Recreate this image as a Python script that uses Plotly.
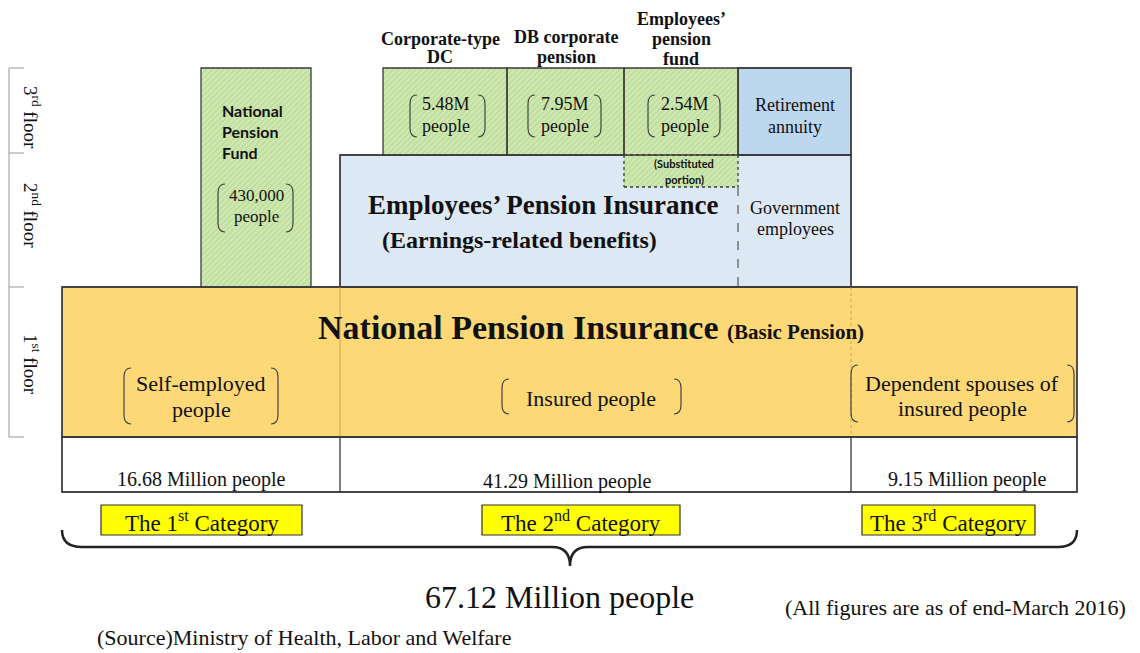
import plotly.graph_objects as go

# ---------------- data ----------------
floor_labels = ["3<sup>rd</sup> floor", "2<sup>nd</sup> floor", "1<sup>st</sup> floor"]
top_plans = [["Corporate-type", "DC"], ["DB corporate", "pension"], ["Employees’", "pension", "fund"]]
top_plan_members = ["5.48M", "7.95M", "2.54M"]
npf_name = ["National", "Pension", "Fund"]
npf_members = "430,000"
categories = ["The 1<sup>st</sup> Category", "The 2<sup>nd</sup> Category", "The 3<sup>rd</sup> Category"]
category_groups = [["Self-employed", "people"], ["Insured people"], ["Dependent spouses of", "insured people"]]
category_counts = [16.68, 41.29, 9.15]
total_count = 67.12
year_note = "(All figures are as of end-March 2016)"
source_note = "(Source)Ministry of Health, Labor and Welfare"

# ---------------- layout geometry (page pixels) ----------------
W, H = 1140, 653
OFF = 8  # default body margin of the html page
SERIF = "Liberation Serif"
SANS = "Lato"
DARK = "#3a3a3a"
GREEN = "#cfe8b0"
GREEN_HATCH = "#a3c97f"

fig = go.Figure()
shapes = []
ann = []

def rect(x0, y0, x1, y1, fill="rgba(0,0,0,0)", line=DARK, lw=1.3, dash="solid", layer="above"):
    shapes.append(dict(type="rect", x0=x0, y0=y0, x1=x1, y1=y1, xref="x", yref="y",
                       fillcolor=fill, line=dict(color=line, width=lw, dash=dash), layer=layer))

def line(x0, y0, x1, y1, color=DARK, lw=1.3, dash="solid", layer="above"):
    shapes.append(dict(type="line", x0=x0, y0=y0, x1=x1, y1=y1, xref="x", yref="y",
                       line=dict(color=color, width=lw, dash=dash), layer=layer))

def text(x, y, t, size=15, family=SERIF, color="#111", xanchor="center", angle=0):
    ann.append(dict(x=x, y=y, xref="x", yref="y", text=t, showarrow=False,
                    font=dict(size=size, family=family, color=color),
                    xanchor=xanchor, yanchor="middle", textangle=angle))

def lines(x, ys, items, bold=False, **kw):
    for yy, t in zip(ys, items):
        text(x, yy, f"<b>{t}</b>" if bold else t, **kw)

def brackets(xl, xr, y0, y1, color="#444", lw=1.2):
    r = 7
    pl = f"M {xl+r},{y0} Q {xl},{y0} {xl},{y0+r+2} L {xl},{y1-r-2} Q {xl},{y1} {xl+r},{y1}"
    pr = f"M {xr-r},{y0} Q {xr},{y0} {xr},{y0+r+2} L {xr},{y1-r-2} Q {xr},{y1} {xr-r},{y1}"
    for p in (pl, pr):
        shapes.append(dict(type="path", path=p, xref="x", yref="y",
                           line=dict(color=color, width=lw), layer="above"))

# floor scale
line(9, 68, 9, 437, color="#999", lw=1)
for yy in (68, 153, 287, 437):
    line(9, yy, 24, yy, color="#999", lw=1)
for (yy, lab) in zip((117, 215, 364), floor_labels):
    text(32, yy, lab, size=19, angle=90)

# background boxes
rect(340, 155, 851, 287, fill="#dde8f5", layer="below")            # Employees' Pension Insurance
rect(738, 68, 851, 155, fill="#bdd7ee", layer="below")             # Retirement annuity
rect(62, 287, 1077, 437, fill="#fdd877", layer="below")            # National Pension Insurance
rect(62, 437, 1077, 492, fill="#ffffff", layer="below")            # counts row

# hatched green boxes (bars with pattern)
green_boxes = [  # (x0, x1, y0, y1)
    (201, 311, 68, 287),
    (383, 507, 68, 155),
    (507, 624, 68, 155),
    (624, 738, 68, 187),
]
fig.add_trace(go.Bar(
    x=[(b[0] + b[1]) / 2 for b in green_boxes],
    width=[b[1] - b[0] for b in green_boxes],
    base=[b[2] for b in green_boxes],
    y=[b[3] - b[2] for b in green_boxes],
    marker=dict(color=GREEN, line=dict(width=0),
                pattern=dict(shape="/", fgcolor=GREEN_HATCH, size=4, solidity=0.3, fillmode="overlay")),
    hoverinfo="skip", showlegend=False,
))

# borders
rect(201, 68, 311, 287)
rect(383, 68, 507, 155)
rect(507, 68, 624, 155)
line(624, 68, 738, 68); line(624, 68, 624, 155); line(738, 68, 738, 155)
line(624, 155, 738, 155, dash="dot")
line(624, 155, 624, 187, dash="dot"); line(738, 155, 738, 187, dash="dot")
line(624, 187, 738, 187, dash="dot")
rect(738, 68, 851, 155)
rect(340, 155, 851, 287)
line(738, 187, 738, 287, dash="dash", lw=1)
rect(62, 287, 1077, 437)
line(340, 287, 340, 437, color="#b59a55", lw=0.8)
line(851, 287, 851, 437, color="#b59a55", lw=0.8, dash="dot")
rect(62, 437, 1077, 492)
line(340, 437, 340, 492)
line(851, 437, 851, 492)

# National Pension Fund text
lines(220, [110, 131, 152], npf_name, bold=True, size=16, family=SANS, xanchor="left")
lines(256, [195, 216], [npf_members, "people"], size=17)
brackets(218, 293, 184, 232)

# top plan labels and members
lines(440, [39, 57], top_plans[0], bold=True, size=18)
lines(566, [37, 57], top_plans[1], bold=True, size=18)
lines(681, [19, 39, 59], top_plans[2], bold=True, size=18)
for cx, m in zip([446, 565, 685], top_plan_members):
    lines(cx, [104, 126], [m, "people"], size=18)
brackets(410, 485, 95, 137)
brackets(528, 601, 95, 137)
brackets(648, 720, 95, 137)
lines(684, [163, 179], ["(Substituted", "portion)"], bold=True, size=11, family=SANS)
lines(795, [105, 127], ["Retirement", "annuity"], size=18)

# Employees' Pension Insurance
text(543, 205, "<b>Employees’ Pension Insurance</b>", size=27)
text(519, 240, "<b>(Earnings-related benefits)</b>", size=24)
lines(795, [208, 229], ["Government", "employees"], size=18)

# National Pension Insurance
text(591, 327, "<b>National Pension Insurance</b> <b><span style='font-size:21px'>(Basic Pension)</span></b>", size=34)
lines(201, [383, 409], category_groups[0], size=22)
lines(591, [398], category_groups[1], size=22)
lines(962, [383, 408], category_groups[2], size=22)
brackets(124, 278, 368, 424)
brackets(502, 681, 379, 414)
brackets(851, 1074, 365, 422)

# counts row
for cx, cy, c in zip([201, 567, 967], [479, 481, 479], category_counts):
    text(cx, cy, f"{c:.2f} Million people", size=20)

# category boxes
cat_boxes = [(101, 302), (482, 680), (862, 1035)]
for (x0, x1), c in zip(cat_boxes, categories):
    rect(x0, 505, x1, 535, fill="#ffff00", line="#333", lw=1.2)
    text((x0 + x1) / 2, 521, c, size=23)

# brace
brace = ("M 62,530 Q 62,547 82,547 L 552,547 Q 570,547 570,566 "
         "Q 570,547 588,547 L 1058,547 Q 1077,547 1077,530")
shapes.append(dict(type="path", path=brace, xref="x", yref="y",
                   line=dict(color="#222", width=2.5), layer="above"))

text(559, 597, f"{total_count:.2f} Million people", size=32)
text(955, 607, year_note, size=22)
text(95, 637, source_note, size=22, xanchor="left")

fig.update_layout(
    width=W - OFF, height=H - OFF,
    margin=dict(l=0, r=0, t=0, b=0),
    paper_bgcolor="white", plot_bgcolor="white",
    xaxis=dict(range=[OFF, W], visible=False, fixedrange=True),
    yaxis=dict(range=[H, OFF], visible=False, fixedrange=True),
    barmode="overlay",
    shapes=shapes, annotations=ann,
    showlegend=False,
)
fig.write_html("out.html")
